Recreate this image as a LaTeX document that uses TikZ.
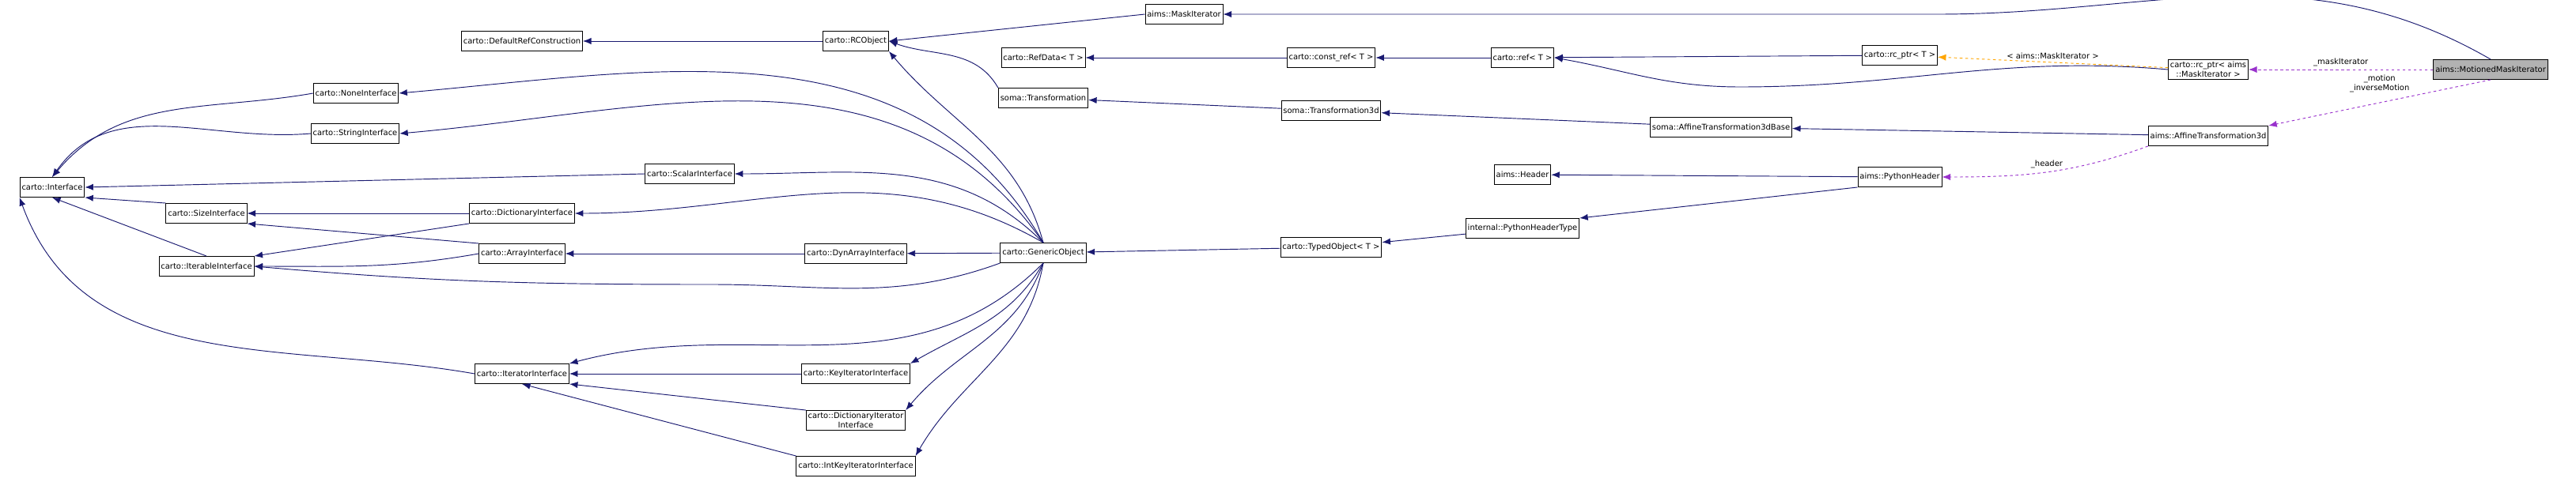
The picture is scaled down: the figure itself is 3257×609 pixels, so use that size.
\documentclass[tikz,border=0pt]{standalone}
\usepackage{fontspec}
\setmainfont{DejaVu Sans}
\usetikzlibrary{arrows.meta}
\definecolor{edgeblue}{RGB}{25,25,112}
\definecolor{aggpurple}{RGB}{153,50,204}
\definecolor{tplorange}{RGB}{255,165,0}
\tikzset{
  cls/.style={draw,thick,fill=white,font=\fontsize{8.5}{10}\selectfont,inner sep=2pt,minimum height=0.75cm,align=center},
  inh/.style={-{Latex[length=9pt,width=7pt]},color=edgeblue,thick},
  agg/.style={-{Latex[length=9pt,width=7pt]},color=aggpurple,thick,dashed},
  tpl/.style={-{Latex[length=9pt,width=7pt]},color=tplorange,thick,dashed},
  lbl/.style={text=black,font=\fontsize{8.5}{10}\selectfont,align=center}
}
\begin{document}
\begin{tikzpicture}[x=0.03cm,y=-0.03cm]
                        \useasboundingbox (0,0) rectangle (3257,609);
                        % interfaces
                        \node [cls] (iface) at (66,237) {carto::Interface};
                        \node [cls] (none) at (450,118) {carto::NoneInterface};
                        \node [cls] (str) at (449,169) {carto::StringInterface};
                        \node [cls] (scal) at (872,220) {carto::ScalarInterface};
                        \node [cls] (size) at (261,270) {carto::SizeInterface};
                        \node [cls] (dict) at (660,270) {carto::DictionaryInterface};
                        \node [cls] (arr) at (660,321) {carto::ArrayInterface};
                        \node [cls] (iter) at (261,337) {carto::IterableInterface};
                        \node [cls] (itor) at (660,473) {carto::IteratorInterface};
                        \node [cls] (dynarr) at (1082,321) {carto::DynArrayInterface};
                        \node [cls] (keyit) at (1082,473) {carto::KeyIteratorInterface};
                        \node [cls] (dictit) at (1082,532) {carto::DictionaryIterator\\Interface};
                        \node [cls] (intkey) at (1082,590) {carto::IntKeyIteratorInterface};
                        % ref counting
                        \node [cls] (defref) at (660,52) {carto::DefaultRefConstruction};
                        \node [cls] (rcobj) at (1082,52) {carto::RCObject};
                        \node [cls] (maskit) at (1497,18) {aims::MaskIterator};
                        \node [cls] (refdata) at (1319,73) {carto::RefData< T >};
                        \node [cls] (cref) at (1683,73) {carto::const\_ref< T >};
                        \node [cls] (ref) at (1925,73) {carto::ref< T >};
                        \node [cls] (rcptr) at (2402,70) {carto::rc\_ptr< T >};
                        \node [cls] (rcmask) at (2792,88) {carto::rc\_ptr< aims\\::MaskIterator >};
                        % transformations
                        \node [cls] (trans) at (1319,124) {soma::Transformation};
                        \node [cls] (trans3d) at (1683,140) {soma::Transformation3d};
                        \node [cls] (affbase) at (2176,161) {soma::AffineTransformation3dBase};
                        \node [cls] (aff) at (2792,172) {aims::AffineTransformation3d};
                        % headers
                        \node [cls] (header) at (1925,221) {aims::Header};
                        \node [cls] (pyhdr) at (2402,224) {aims::PythonHeader};
                        \node [cls] (pytype) at (1925,289) {internal::PythonHeaderType};
                        \node [cls] (generic) at (1319,320) {carto::GenericObject};
                        \node [cls] (typed) at (1683,313) {carto::TypedObject< T >};
                        \node [cls,fill=gray!60] (motioned) at (3149,88) {aims::MotionedMaskIterator};

                        \draw [inh] (rcobj) -- (defref);
                        \draw [inh] (maskit.west) -- (rcobj.east);
                        \draw [inh] (motioned.north) to [out=150,in=0] (2450,18) -- (maskit);
                        \draw [inh] (trans.north west) to [out=120,in=-20] (rcobj.east);
                        \draw [inh] (generic.north) to [out=105,in=-50] (rcobj.south east);
                        \draw [inh] (cref) -- (refdata);
                        \draw [inh] (ref) -- (cref);
                        \draw [inh] (rcptr) -- (ref);
                        \draw [inh] (rcmask.west) to [out=175,in=0] (2200,110) to [out=180,in=-10] (ref.east);
                        \draw [tpl] (rcmask) -- node [lbl,above] {< aims::MaskIterator >} (rcptr);
                        \draw [agg] (motioned) -- node [lbl,above] {\_maskIterator} (rcmask);
                        \draw [agg] (motioned.south) -- node [lbl,above left,pos=0.35] {\_motion\\\_inverseMotion} (aff.north east);
                        \draw [agg] (aff.south west) to [out=-160,in=0] node [lbl,above,pos=0.5] {\_header} (pyhdr.east);
                        \draw [inh] (trans3d) -- (trans);
                        \draw [inh] (affbase) -- (trans3d);
                        \draw [inh] (aff) -- (affbase);
                        \draw [inh] (pyhdr) -- (header);
                        \draw [inh] (pyhdr.south west) -- (pytype.north east);
                        \draw [inh] (pytype) -- (typed);
                        \draw [inh] (typed) -- (generic);
                        % generic object bases
                        \draw [inh] (generic.north) to [out=120,in=5] (none.east);
                        \draw [inh] (generic.north) to [out=125,in=5] (str.east);
                        \draw [inh] (generic.north) to [out=135,in=0] (scal.east);
                        \draw [inh] (generic.north) to [out=150,in=0] (dict.east);
                        \draw [inh] (generic) -- (dynarr);
                        \draw [inh] (generic.south west) to [out=-160,in=0] (900,360) to [out=180,in=-5] (iter.east);
                        \draw [inh] (generic.south) to [out=-135,in=15] (itor.north east);
                        \draw [inh] (generic.south) to [out=-120,in=30] (keyit.north east);
                        \draw [inh] (generic.south) to [out=-110,in=50] (dictit.north east);
                        \draw [inh] (generic.south) to [out=-100,in=60] (intkey.north east);
                        \draw [inh] (dynarr) -- (arr);
                        % interface bases
                        \draw [inh] (none.west) to [out=190,in=50] (iface.north);
                        \draw [inh] (str.west) to [out=185,in=55] (iface.north);
                        \draw [inh] (scal.west) -- (iface.east);
                        \draw [inh] (size.north west) -- (iface.south east);
                        \draw [inh] (iter.north) -- (iface.south);
                        \draw [inh] (itor.west) to [out=170,in=-70] (iface.south west);
                        \draw [inh] (dict) -- (size);
                        \draw [inh] (dict.south west) -- (iter.north east);
                        \draw [inh] (arr.north west) -- (size.south east);
                        \draw [inh] (arr.west) to [out=190,in=0] (iter.east);
                        \draw [inh] (keyit) -- (itor);
                        \draw [inh] (dictit.north west) -- (itor.south east);
                        \draw [inh] (intkey.north west) -- (itor.south);
\end{tikzpicture}
\end{document}
